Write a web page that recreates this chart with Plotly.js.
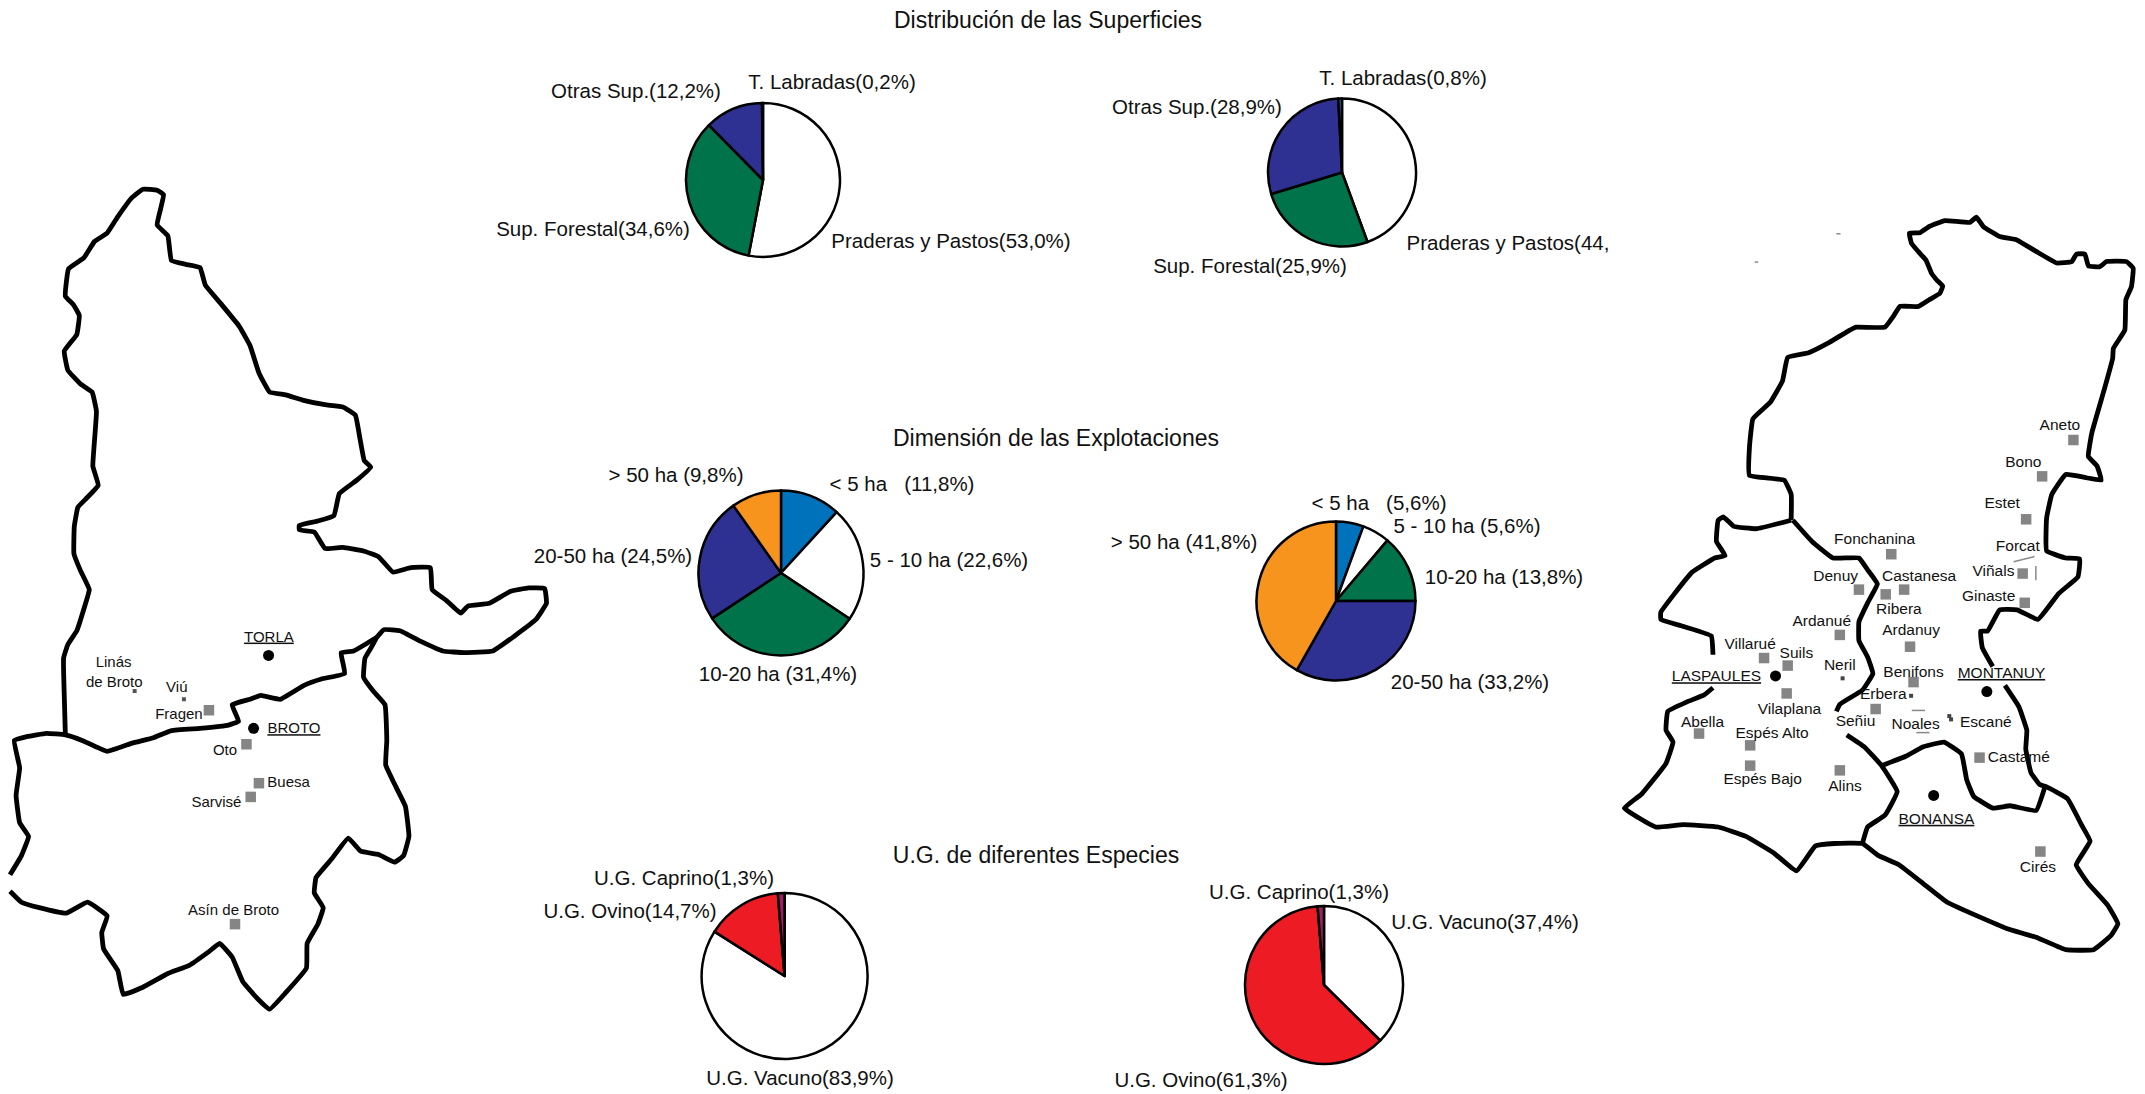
<!DOCTYPE html>
<html><head><meta charset="utf-8">
<script src="https://cdn.plot.ly/plotly-3.0.1.min.js"></script>
<style>html,body{margin:0;padding:0;background:#fff}</style></head>
<body><div id="chart" style="width:2145px;height:1094px"></div>
<script>
// ---- pies
const supLabels = ["Praderas y Pastos","Sup. Forestal","Otras Sup.","T. Labradas"];
const supLeft = [53.0,34.6,12.2,0.2];
const supRight = [44.4,25.9,28.9,0.8];
const supColors = ["#ffffff","#00734a","#2e3192","#0072bc"];
const dimLabels = ["< 5 ha","5 - 10 ha","10-20 ha","20-50 ha","> 50 ha"];
const dimLeft = [11.8,22.6,31.4,24.5,9.8];
const dimRight = [5.6,5.6,13.8,33.2,41.8];
const dimColors = ["#0072bc","#ffffff","#00734a","#2e3192","#f7941d"];
const ugLabels = ["U.G. Vacuno","U.G. Ovino","U.G. Caprino"];
const ugLeft = [83.9,14.7,1.3];
const ugRight = [37.4,61.3,1.3];
const ugColors = ["#ffffff","#ed1c24","#9e1f63"];
const pieCx = [763,1342,781,1336,784.6,1324];
const pieCy = [180,172.5,573,601,976,985];
const pieR  = [77,74,82.5,79.5,83,79];

// ---- page texts
const titleText = ["Distribución de las Superficies","Dimensión de las Explotaciones","U.G. de diferentes Especies"];
const titleX = [1048,1056,1036];
const titleY = [22,440,857];
const noteText = ["T. Labradas(0,2%)","Otras Sup.(12,2%)","Sup. Forestal(34,6%)","Praderas y Pastos(53,0%)",
 "T. Labradas(0,8%)","Otras Sup.(28,9%)","Sup. Forestal(25,9%)","Praderas y Pastos(44,",
 "&gt; 50 ha (9,8%)","&lt; 5 ha   (11,8%)","20-50 ha (24,5%)","5 - 10 ha (22,6%)","10-20 ha (31,4%)",
 "&lt; 5 ha   (5,6%)","5 - 10 ha (5,6%)","&gt; 50 ha (41,8%)","10-20 ha (13,8%)","20-50 ha (33,2%)",
 "U.G. Caprino(1,3%)","U.G. Ovino(14,7%)","U.G. Vacuno(83,9%)","U.G. Caprino(1,3%)","U.G. Vacuno(37,4%)","U.G. Ovino(61,3%)"];
const noteX = [832,636,593,951,1403,1197,1250,1508,676,902,613,949,778,1379,1467,1184,1504,1470,684,630,800,1299,1485,1201];
const noteY = [84,93,231,243,80,109,268,245,477,486,558,562,676,505,528,544,579,684,880,913,1080,894,924,1082];

// ---- west map
const westX = [183,180,178,190,215,235,250,225,207,208,218,240,275,260,265,270,258,225,190,180,215,222,205,183,192,235,265,300,330,370,400,440,458,450,440,470,480,520,560,575,620,670,700,725,755,800,850,910,960,995,1008,1020,1038,1000,950,935,890,838,838,880,910,960,1020,1060,1100,1150,1205,1210,1250,1290,1310,1370,1430,1480,1525,1530,1500,1440,1380,1300,1240,1180,1120,1075,1055,1040,1022,1018,1045,1078,1083,1080,1105,1135,1145,1130,1105,1060,1010,975,930,885,880,905,890,860,858,800,755,720,680,650,615,585,530,470,400,345,330,290,285,300,245,185,110,60,28,null,
 28,60,80,55,45,55,40,75,130,183,230,300,370,430,480,560,640,668,650,700,730,785,850,900,965,955,990,1030,1055];
const westY = [1030,960,890,865,840,800,765,730,700,650,615,600,575,540,490,440,405,390,365,330,300,265,245,230,180,160,130,115,85,50,35,37,45,70,100,120,165,172,178,210,245,285,320,370,405,410,420,428,432,447,490,530,542,565,590,630,640,648,656,660,690,688,695,705,733,725,725,765,785,808,795,790,768,762,763,790,820,850,877,880,877,860,840,838,852,870,890,925,950,975,1040,1085,1120,1160,1215,1250,1262,1248,1242,1218,1255,1290,1318,1345,1375,1410,1455,1500,1530,1510,1480,1435,1410,1425,1450,1465,1490,1503,1460,1420,1390,1360,1335,1355,1345,1335,1315,null,
 1285,1250,1215,1190,1140,1090,1040,1033,1027,1030,1040,1060,1045,1035,1022,1018,1012,1005,975,965,958,965,940,928,918,880,877,862,852];
const westTownX = [585,690,725,702,658];
const westTownY = [985,1047,1118,1143,1375];
const westSmallX = [377,515];
const westSmallY = [950,965];
const westSeatX = [752,710];
const westSeatY = [885,1018];
const westText = ["<u>TORLA</u>","Linás","de Broto","Viú","Fragen","<u>BROTO</u>","Oto","Buesa","Sarvisé","Asín de Broto"];
const westTextX = [753,318,320,495,501,823,630,808,606,654];
const westTextY = [853,900,935,945,995,1020,1059,1118,1155,1351];

// ---- east map
const eastX = [550,550,530,430,430,440,490,525,540,600,660,719,738,820,844,863,916,949,978,986,970,954,938,916,896,890,920,949,992,1064,1083,1103,1150,1199,1256,1314,1357,1371,1395,1405,1438,1457,1515,1534,1529,1513,1510,1477,1475,1450,1415,1405,1430,1442,1400,1340,1300,1285,1285,1340,1380,1375,1320,1260,1200,1150,1115,1095,1100,1130,null,
 1165,1205,1228,1225,1240,1265,1285,1345,1385,1410,1370,1405,1460,1490,1470,1420,1340,1260,1170,1090,1000,930,860,800,755,675,620,565,500,420,340,240,160,110,70,120,190,210,190,195,250,300,325,null,
 325,320,240,175,175,215,265,330,360,335,340,355,385,450,550,null,
 555,610,670,745,770,798,770,745,745,770,785,755,690,680,null,
 710,760,810,855,820,770,755,null,
 810,880,930,990,1040,1055,1075,1130,1180,1255,1280];
const eastY = [615,560,530,520,460,400,365,320,270,260,238,212,206,206,183,162,162,147,134,119,107,92,64,46,28,7,6,-8,-20,-16,-27,-7,14,21,46,70,67,51,51,76,78,67,67,81,120,148,212,251,272,340,430,480,500,530,525,518,560,610,680,695,697,735,770,825,805,805,850,850,885,925,null,
 965,1010,1060,1100,1150,1175,1180,1205,1260,1295,1345,1385,1430,1470,1495,1525,1525,1500,1480,1455,1425,1385,1345,1325,1300,1300,1305,1358,1320,1285,1265,1260,1265,1245,1225,1195,1130,1085,1060,1020,1000,985,970,null,
 900,860,840,825,810,770,725,695,690,660,615,608,628,633,615,null,
 615,660,695,695,720,750,790,830,870,905,940,975,1005,1020,null,
 1070,1095,1135,1190,1240,1265,1300,null,
 1135,1115,1095,1085,1110,1165,1200,1225,1220,1230,1180];
const eastTownX = [1362,1272,1226,1216,1222,838,745,822,875,690,892,472,540,537,902,793,285,432,432,690,1092,1267];
const eastTownY = [445,522,613,728,790,687,762,772,762,858,883,907,923,982,958,1015,1067,1092,1135,1145,1118,1317];
const eastSmallX = [698,895,1005,1010];
const eastSmallY = [950,987,1030,1037];
const eastStrokeX = [1190,1250,null,1254,1254,null,897,935,null,910,948,null,680,692,null,445,455];
const eastStrokeY = [703,692,null,712,742,null,1018,1018,null,1065,1065,null,8,8,null,68,68];
const eastSeatX = [505,1113,960];
const eastSeatY = [945,978,1198];
const eastText = ["Aneto","Bono","Estet","Forcat","Viñals","Ginaste","Fonchanina","Denuy","Castanesa","Ribera","Ardanué","Ardanuy","Villarué","Suils","Neril","<u>LASPAULES</u>","Vilaplana","Benifons","Erbera","<u>MONTANUY</u>","Señiu","Noales","Escané","Abella","Espés Alto","Espés Bajo","Alins","Castamé","<u>BONANSA</u>","Cirés"];
const eastTextX = [1323,1218,1157,1202,1132,1118,790,678,918,860,638,895,432,565,690,335,545,902,815,1155,735,908,1110,295,495,468,705,1205,968,1260];
const eastTextY = [416,493,581,671,725,778,658,736,736,805,831,851,880,898,924,948,1018,938,985,941,1043,1050,1045,1045,1068,1166,1180,1120,1250,1353];

const W = 2145, H = 1094;
const FONT = "Liberation Sans, Arial, sans-serif";

function pie(labels, values, colors, i) {
  return {type:"pie", labels, values, sort:false, direction:"clockwise", rotation:0,
    marker:{colors, line:{color:"#000", width:2.5}}, textinfo:"none", hoverinfo:"skip", showlegend:false,
    domain:{x:[(pieCx[i]-pieR[i])/W,(pieCx[i]+pieR[i])/W], y:[1-(pieCy[i]+pieR[i])/H,1-(pieCy[i]-pieR[i])/H]}};
}
function text(x,y,t,size,xa,ya) {
  return {type:"scatter",mode:"text",x,y,text:t,textposition:"middle center",cliponaxis:false,
    textfont:{family:FONT,size,color:"#111"},hoverinfo:"skip",xaxis:xa,yaxis:ya,showlegend:false};
}
function outline(x,y,xa,ya,width,color) {
  return {type:"scatter",mode:"lines",x,y,connectgaps:false,cliponaxis:false,line:{color,width,shape:"spline",smoothing:0.3},
    hoverinfo:"skip",xaxis:xa,yaxis:ya,showlegend:false};
}
function dots(x,y,symbol,size,color,xa,ya) {
  return {type:"scatter",mode:"markers",x,y,marker:{symbol,size,color,line:{width:0}},cliponaxis:false,hoverinfo:"skip",xaxis:xa,yaxis:ya,showlegend:false};
}
const data = [
  outline(westX,westY,"x2","y2",4.8,"#000"),
  dots(westTownX,westTownY,"square",10.5,"#858585","x2","y2"),
  dots(westSmallX,westSmallY,"square",4,"#555","x2","y2"),
  dots(westSeatX,westSeatY,"circle",11,"#000","x2","y2"),
  text(westTextX,westTextY,westText,15,"x2","y2"),
  outline(eastX,eastY,"x3","y3",4.8,"#000"),
  outline(eastStrokeX,eastStrokeY,"x3","y3",1.5,"#888"),
  dots(eastTownX,eastTownY,"square",10.5,"#858585","x3","y3"),
  dots(eastSmallX,eastSmallY,"square",4,"#444","x3","y3"),
  dots(eastSeatX,eastSeatY,"circle",11,"#000","x3","y3"),
  text(eastTextX,eastTextY,eastText,15.5,"x3","y3"),
  pie(supLabels,supLeft,supColors,0),
  pie(supLabels,supRight,supColors,1),
  pie(dimLabels,dimLeft,dimColors,2),
  pie(dimLabels,dimRight,dimColors,3),
  pie(ugLabels,ugLeft,ugColors,4),
  pie(ugLabels,ugRight,ugColors,5),
  text(titleX,titleY,titleText,23,"x","y"),
  text(noteX,noteY,noteText,20.5,"x","y")
];
const hidden = {visible:false,fixedrange:true,showgrid:false,zeroline:false};
const layout = {
  width:W,height:H,margin:{l:0,r:0,t:0,b:0},paper_bgcolor:"#fff",plot_bgcolor:"rgba(0,0,0,0)",showlegend:false,
  xaxis:{...hidden,domain:[0,1],range:[0,W],anchor:"y"},
  yaxis:{...hidden,domain:[0,1],range:[H,0],anchor:"x"},
  xaxis2:{...hidden,domain:[0,560/W],range:[0,1568],anchor:"y2"},
  yaxis2:{...hidden,domain:[1-1030/H,1-170/H],range:[1568,0],anchor:"x2"},
  xaxis3:{...hidden,domain:[1600/W,1],range:[0,1568],anchor:"y3"},
  yaxis3:{...hidden,domain:[1-970/H,1-211.1/H],range:[1568,-40],anchor:"x3"}
};
Plotly.newPlot("chart",data,layout,{staticPlot:true,displayModeBar:false});
</script></body></html>
